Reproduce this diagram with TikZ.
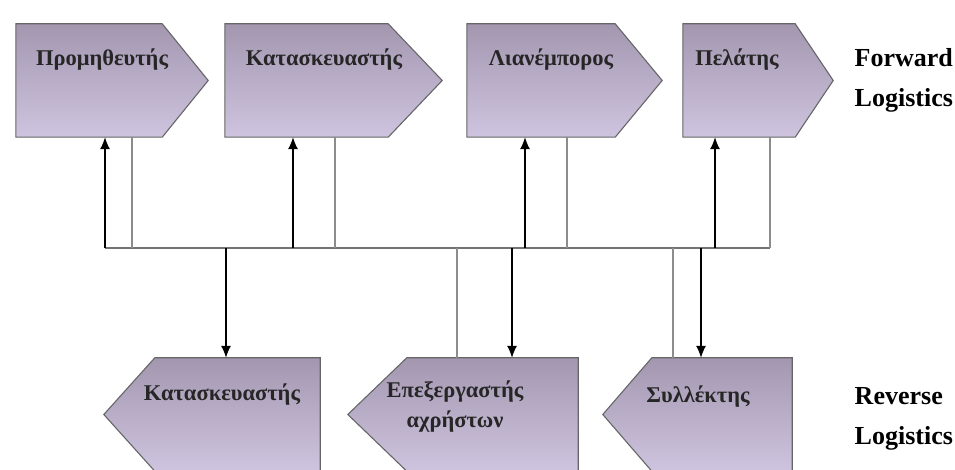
\documentclass[tikz,border=0pt]{standalone}
\usepackage{fontspec}
\setmainfont{Liberation Serif}
\usetikzlibrary{arrows.meta,positioning}

\definecolor{boxtop}{HTML}{A397B0}
\definecolor{boxbot}{HTML}{CFC4DF}

\begin{document}
\begin{tikzpicture}[x=1pt, y=1pt, node distance=56pt,
        body/.style={rectangle, minimum height=113pt, inner sep=0pt},
        shell/.style={draw=black!60, line width=1.1pt, top color=boxtop, bottom color=boxbot},
        lbl/.style={font=\bfseries\fontsize{22.5}{30}\selectfont, text=black!85, align=center},
        side/.style={font=\bfseries\fontsize{26}{40}\selectfont, align=left},
        upar/.style={-{Latex[length=12pt,width=10pt]}, line width=1.2pt, black},
        plain/.style={line width=1.2pt, black!45},
        bus/.style={line width=1.2pt, black!55}]

    \path[use as bounding box, fill=white] (0,0) rectangle (955,470);

    % forward chain
    \node[body, minimum width=146pt] (prom) at (89,389.5) {};
    \node[body, minimum width=163pt] (kat) at (306.5,389.5) {};
    \node[body, minimum width=148pt] (lian) at (541,389.5) {};
    \node[body, minimum width=112pt] (pel) at (739,389.5) {};

    % reverse chain
    \node[body, minimum width=165pt] (kat2) at (237.5,55.5) {};
    \node[body, minimum width=171pt] (epe) at (492.5,55.5) {};
    \node[body, minimum width=140pt] (syl) at (722,55.5) {};

    \draw[shell] (prom.north west) -- (prom.north east) -- ([xshift=46pt]prom.east) -- (prom.south east) -- (prom.south west) -- cycle;
    \draw[shell] (kat.north west) -- (kat.north east) -- ([xshift=54pt]kat.east) -- (kat.south east) -- (kat.south west) -- cycle;
    \draw[shell] (lian.north west) -- (lian.north east) -- ([xshift=47pt]lian.east) -- (lian.south east) -- (lian.south west) -- cycle;
    \draw[shell] (pel.north west) -- (pel.north east) -- ([xshift=38pt]pel.east) -- (pel.south east) -- (pel.south west) -- cycle;

    \draw[shell] (kat2.north east) -- (kat2.north west) -- ([xshift=-51pt]kat2.west) -- (kat2.south west) -- (kat2.south east) -- cycle;
    \draw[shell] (epe.north east) -- (epe.north west) -- ([xshift=-59pt]epe.west) -- (epe.south west) -- (epe.south east) -- cycle;
    \draw[shell] (syl.north east) -- (syl.north west) -- ([xshift=-49pt]syl.west) -- (syl.south west) -- (syl.south east) -- cycle;

    \node[lbl] (promt) at (102,410) {Προμηθευτής};
    \node[lbl] (katt) at (324,410) {Κατασκευαστής};
    \node[lbl] (liant) at (551,410) {Λιανέμπορος};
    \node[lbl] (pelt) at (737,410) {Πελάτης};
    \node[lbl] (kat2t) at (222,75) {Κατασκευαστής};
    \node[lbl] (epet) at (455,63) {Επεξεργαστής\\αχρήστων};
    \node[lbl] (sylt) at (698,73) {Συλλέκτης};

    \node[side, right=of pel] (fwd) {Forward\\Logistics};
    \node[side, right=59pt of syl, yshift=-4pt] (rev) {Reverse\\Logistics};

    % junctions on the common line
    \coordinate (j1) at (105,222);
    \coordinate (j2) at (132,222);
    \coordinate (j3) at (226,222);
    \coordinate (j4) at (293,222);
    \coordinate (j5) at (335,222);
    \coordinate (j6) at (457,222);
    \coordinate (j7) at (512,222);
    \coordinate (j8) at (525,222);
    \coordinate (j9) at (567,222);
    \coordinate (j10) at (673,222);
    \coordinate (j11) at (701,222);
    \coordinate (j12) at (715,222);
    \coordinate (j13) at (770,222);

    \draw[bus] (j1) -- (j13);

    \draw[upar] (j1) -- (j1 |- prom.south);
    \draw[plain] (j2 |- prom.south) -- (j2);
    \draw[upar] (j4) -- (j4 |- kat.south);
    \draw[plain] (j5 |- kat.south) -- (j5);
    \draw[upar] (j8) -- (j8 |- lian.south);
    \draw[plain] (j9 |- lian.south) -- (j9);
    \draw[upar] (j12) -- (j12 |- pel.south);
    \draw[plain] (j13 |- pel.south) -- (j13);

    \draw[upar] (j3) -- (j3 |- kat2.north);
    \draw[plain] (j6) -- (j6 |- epe.north);
    \draw[upar] (j7) -- (j7 |- epe.north);
    \draw[plain] (j10) -- (j10 |- syl.north);
    \draw[upar] (j11) -- (j11 |- syl.north);
\end{tikzpicture}
\end{document}
